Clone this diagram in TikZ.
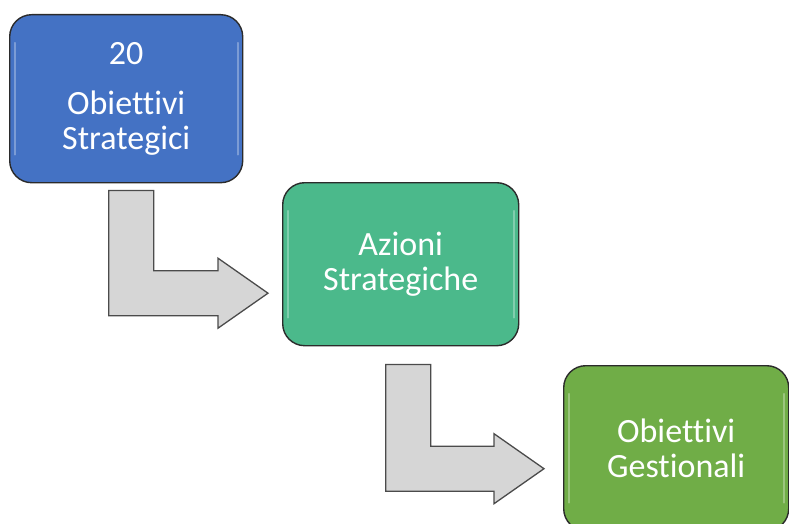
\documentclass[tikz,border=0pt]{standalone}
\usepackage{fontspec}
\setmainfont{Carlito}[Ligatures=CommonOff]
\usetikzlibrary{calc}
\definecolor{boxblue}{HTML}{4472C4}
\definecolor{boxteal}{HTML}{4BB98B}
\definecolor{boxgreen}{HTML}{70AD47}
\definecolor{arrowfill}{HTML}{D6D6D6}
\definecolor{edgecol}{HTML}{2B2B2B}
\begin{document}
\begin{tikzpicture}[x=1pt,y=-1pt,
  card/.style={draw=edgecol, line width=1.4pt, rounded corners=22pt, text=white,
    font=\fontsize{34}{35}\selectfont, align=center, inner sep=0pt, anchor=north west,
    path picture={
      \draw[white, opacity=.3, line width=1.6pt, line cap=round]
        ([xshift=5pt,yshift=-28pt]path picture bounding box.north west) --
        ([xshift=5pt,yshift=28pt]path picture bounding box.south west);
      \draw[white, opacity=.3, line width=1.6pt, line cap=round]
        ([xshift=-5pt,yshift=-28pt]path picture bounding box.north east) --
        ([xshift=-5pt,yshift=28pt]path picture bounding box.south east);
    }},
  bentarrow/.style={draw=edgecol!85, line width=1.3pt, fill=arrowfill, line join=miter},
]
\clip (0,0) rectangle (789,524);
\useasboundingbox (0,0) rectangle (789,524);

\node[card, fill=boxblue, minimum width=233pt, minimum height=168pt] (b1) at (9,14)
  {20\\[15pt]Obiettivi\\Strategici};
\node[card, fill=boxteal, minimum width=236pt, minimum height=163pt] (b2) at (282,182)
  {Azioni\\Strategiche};
\node[card, fill=boxgreen, minimum width=225pt, minimum height=165pt] (b3) at (563,365)
  {Obiettivi\\Gestionali};

\coordinate (s1) at ([xshift=5pt,yshift=-7pt]b1.south);
\coordinate (t1) at ([xshift=-14pt,yshift=-29pt]b2.west);
\coordinate (s2) at ([xshift=7.5pt,yshift=-18pt]b2.south);
\coordinate (t2) at ([xshift=-19pt,yshift=-20.5pt]b3.west);

\foreach \s/\t in {s1/t1, s2/t2}{
  \draw[bentarrow] let \p1=(\s), \p2=(\t) in
    (\x1-22.5pt,\y1) -- (\x1-22.5pt,\y2-22.5pt) -- (\x2-50pt,\y2-22.5pt)
    -- (\x2-50pt,\y2-35pt) -- (\x2,\y2) -- (\x2-50pt,\y2+35pt)
    -- (\x2-50pt,\y2+22.5pt) -- (\x1+22.5pt,\y2+22.5pt) -- (\x1+22.5pt,\y1) -- cycle;
}
\end{tikzpicture}
\end{document}
